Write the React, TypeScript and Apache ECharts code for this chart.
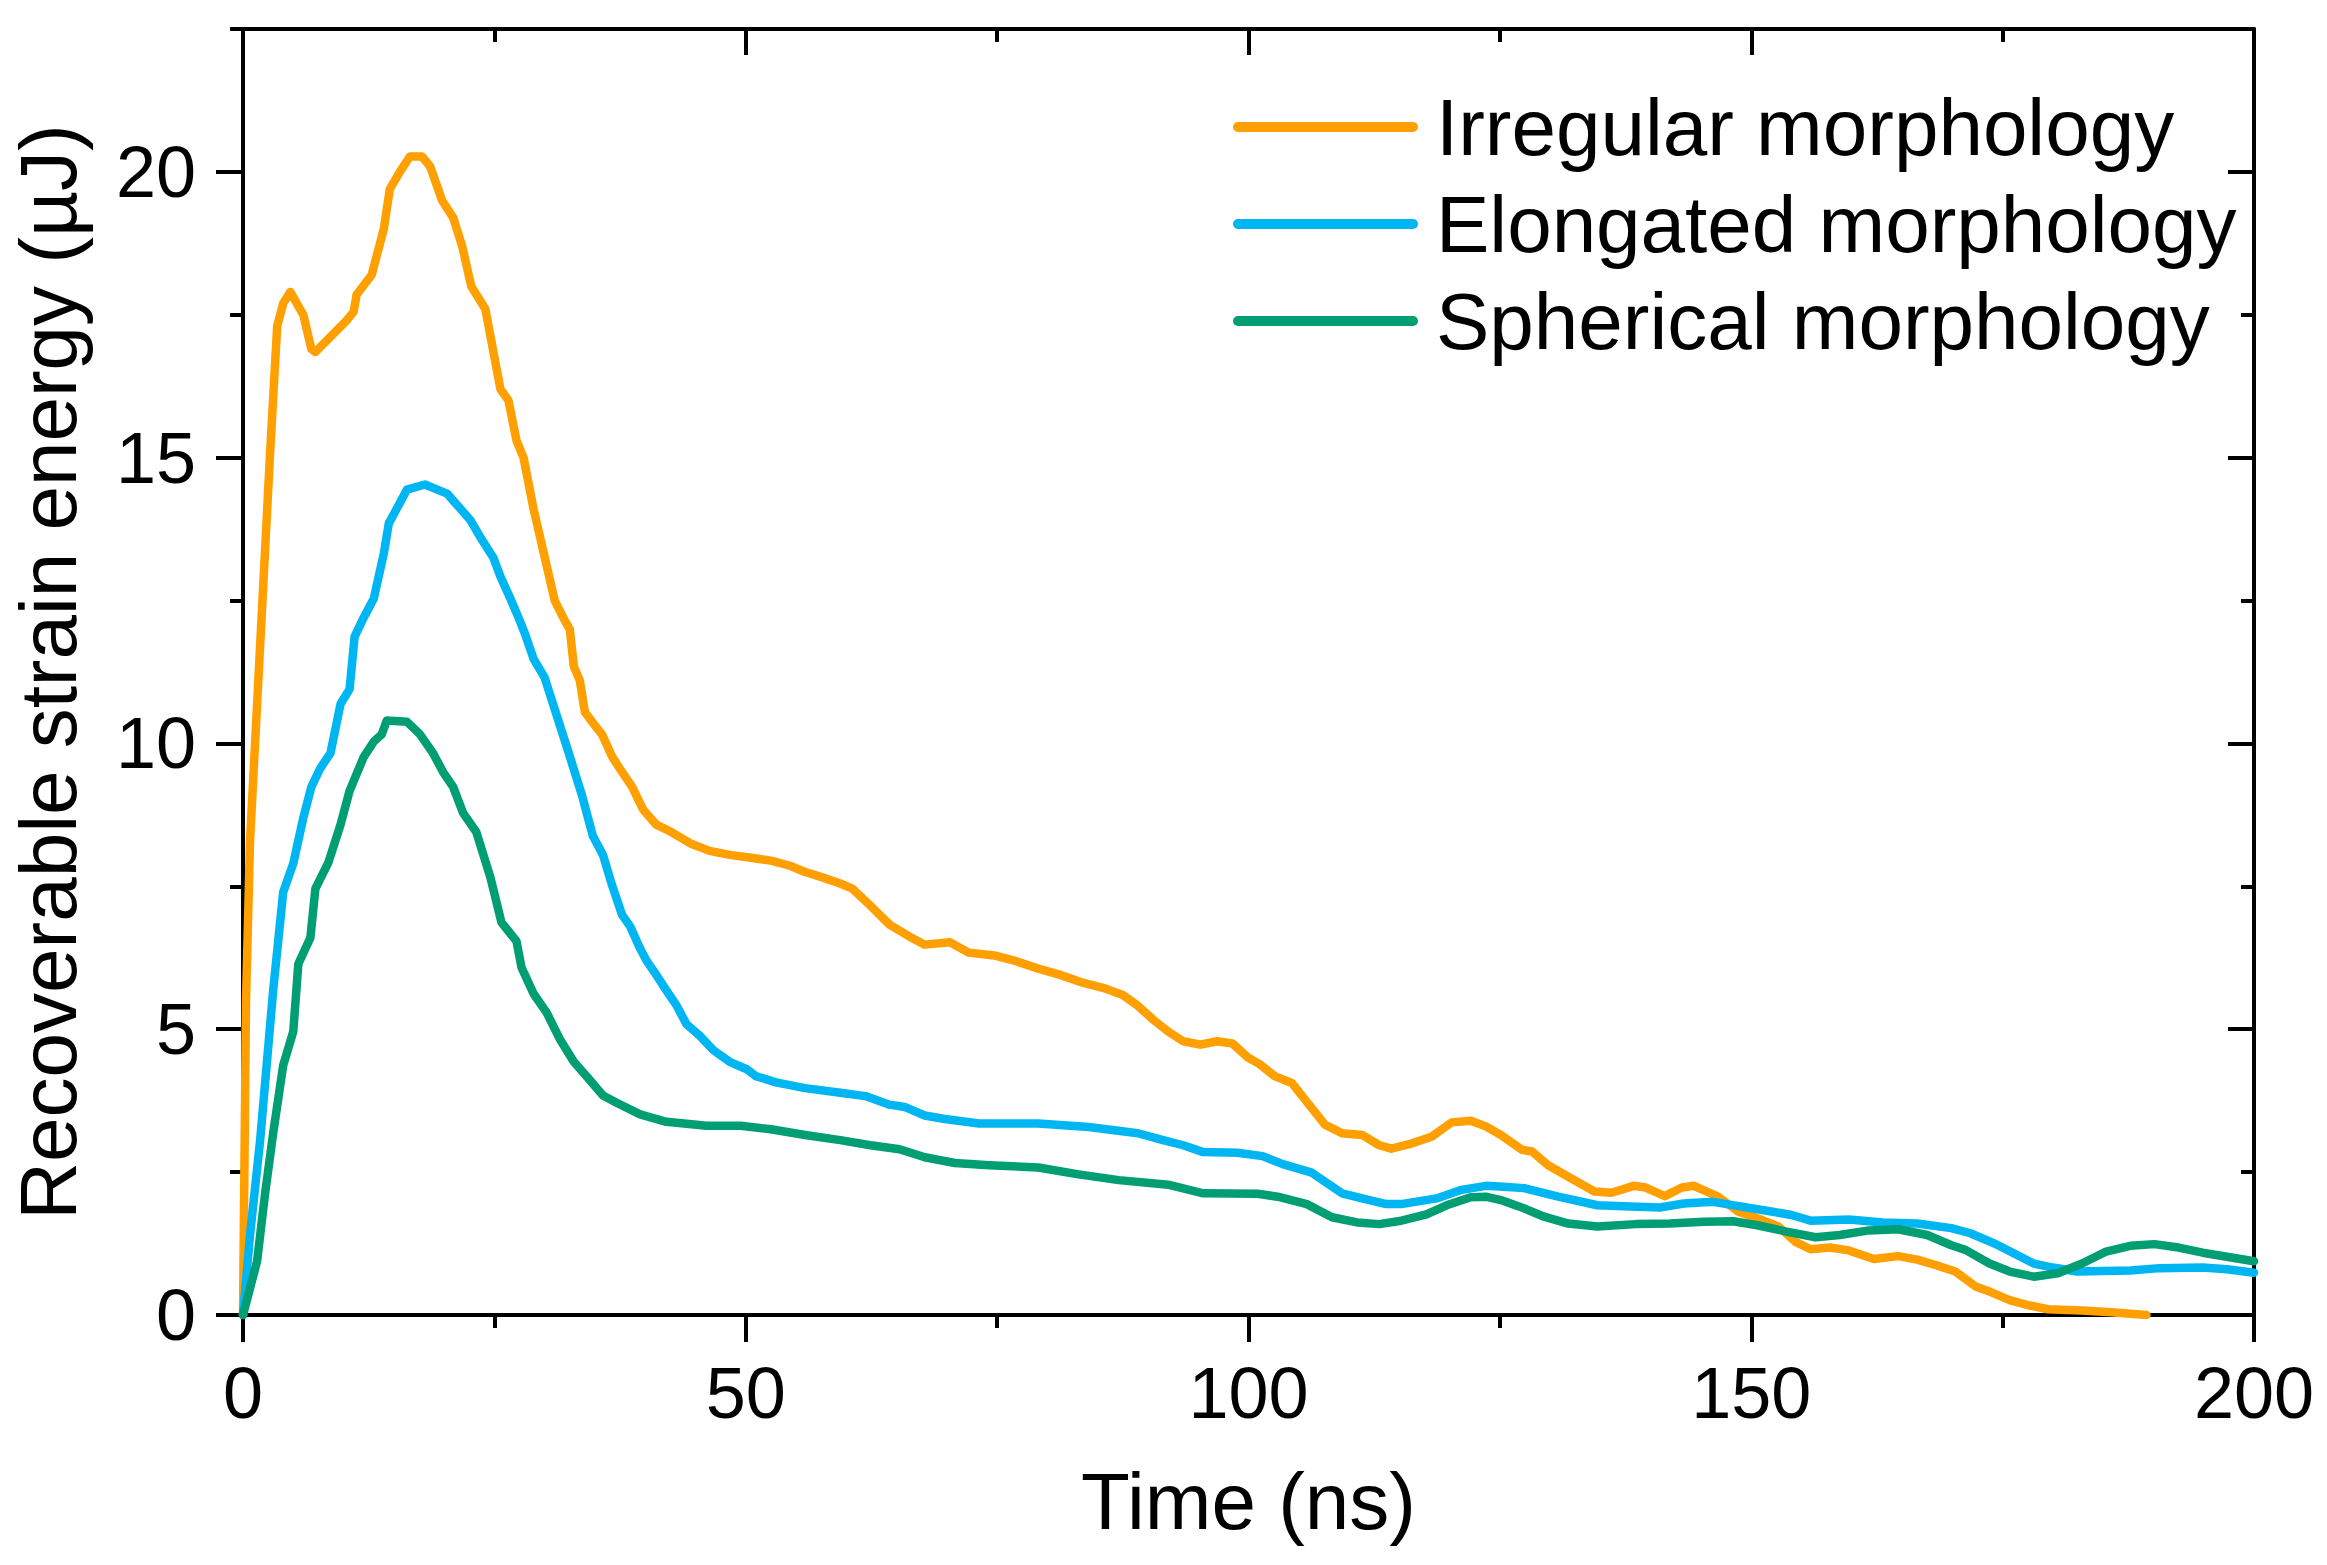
import React, { useEffect, useRef } from "react";
import * as echarts from "echarts";

const seriesNames = ["Irregular morphology", "Elongated morphology", "Spherical morphology"];
const seriesColors = ["#FFA000", "#00B6F2", "#009E72"];

const xTicks = [0, 50, 100, 150, 200];
const yMajorTicks = [0, 5, 10, 15, 20];

const irregularTime = [0, 0.3, 0.7, 1.7, 2.7, 3.4, 4.0, 4.7, 6.0, 6.8, 7.2, 10.3, 11.0, 11.3, 12.8, 14.0, 14.6, 15.6, 16.6, 17.8, 18.6, 19.8, 20.9, 21.8, 22.7, 24.1, 25.6, 26.4, 27.2, 27.9, 28.9, 31.0, 32.0, 32.5, 32.9, 33.5, 34.0, 34.8, 35.7, 36.7, 37.7, 38.7, 39.8, 41.1, 42.6, 44.5, 46.4, 48.4, 50.5, 52.5, 54.4, 55.9, 57.4, 59.4, 60.6, 62.4, 64.3, 66.3, 67.8, 70.3, 72.2, 74.7, 76.7, 79.1, 81.1, 83.6, 85.6, 87.5, 89.0, 90.5, 92.0, 93.5, 95.2, 96.9, 98.4, 99.9, 101.1, 102.6, 104.3, 105.8, 107.6, 109.3, 111.3, 113.0, 114.2, 116.2, 118.2, 120.2, 122.1, 123.6, 125.1, 127.2, 128.2, 129.8, 131.8, 134.4, 136.1, 138.3, 139.5, 141.4, 143.1, 144.3, 146.7, 148.7, 151.1, 152.7, 154.4, 155.9, 157.8, 159.7, 162.2, 164.6, 166.5, 168.4, 170.3, 172.3, 173.7, 175.7, 177.6, 179.5, 182.9, 185.8, 188.7, 189.3];
const irregularEnergy = [0, 5.5, 8.3, 11.7, 15.1, 17.3, 17.7, 17.9, 17.5, 16.9, 16.85, 17.4, 17.55, 17.85, 18.2, 19.0, 19.7, 20.0, 20.27, 20.27, 20.1, 19.5, 19.2, 18.7, 18.0, 17.6, 16.2, 16.0, 15.3, 15.0, 14.1, 12.5, 12.15, 12.0, 11.35, 11.1, 10.55, 10.36, 10.16, 9.77, 9.5, 9.24, 8.84, 8.58, 8.45, 8.25, 8.12, 8.05, 8.0, 7.95, 7.86, 7.75, 7.67, 7.55, 7.46, 7.16, 6.83, 6.62, 6.48, 6.52, 6.34, 6.29, 6.2, 6.06, 5.96, 5.81, 5.72, 5.6, 5.41, 5.17, 4.96, 4.79, 4.73, 4.79, 4.75, 4.51, 4.39, 4.18, 4.06, 3.73, 3.33, 3.18, 3.15, 2.97, 2.91, 3.0, 3.12, 3.37, 3.4, 3.3, 3.15, 2.89, 2.86, 2.62, 2.42, 2.16, 2.14, 2.26, 2.23, 2.08, 2.23, 2.26, 2.07, 1.81, 1.66, 1.55, 1.28, 1.15, 1.18, 1.13, 0.98, 1.03, 0.97, 0.87, 0.76, 0.5, 0.41, 0.26, 0.17, 0.1, 0.08, 0.05, 0.01, 0];

const elongatedTime = [0, 0.7, 1.7, 3.0, 4.0, 5.0, 6.0, 6.8, 7.7, 8.7, 9.7, 10.6, 11.1, 12.0, 13.0, 14.0, 14.5, 15.3, 16.3, 18.1, 18.9, 20.3, 21.6, 22.6, 23.7, 24.9, 25.6, 26.6, 27.4, 28.0, 28.9, 30.0, 31.2, 32.4, 33.7, 34.8, 35.8, 36.7, 37.7, 38.5, 39.5, 40.1, 41.1, 42.1, 43.1, 44.1, 45.4, 46.8, 48.4, 50.1, 51.0, 53.0, 55.9, 59.4, 61.9, 64.3, 65.8, 67.8, 69.8, 73.2, 79.1, 84.1, 89.0, 91.5, 93.5, 95.5, 98.9, 101.4, 103.4, 106.3, 107.8, 109.3, 111.3, 113.7, 115.2, 118.7, 121.2, 123.6, 125.0, 127.4, 130.8, 134.7, 138.0, 140.9, 143.3, 146.2, 148.6, 152.0, 154.0, 155.9, 159.7, 163.1, 166.5, 169.9, 171.8, 174.2, 176.1, 178.1, 180.0, 182.4, 187.7, 190.6, 194.9, 197.3, 200];
const elongatedEnergy = [0, 1.4, 3.05, 5.68, 7.4, 7.9, 8.7, 9.24, 9.57, 9.83, 10.69, 10.95, 11.87, 12.2, 12.53, 13.32, 13.85, 14.11, 14.44, 14.53, 14.47, 14.37, 14.11, 13.91, 13.58, 13.25, 12.92, 12.53, 12.2, 11.94, 11.48, 11.15, 10.49, 9.83, 9.1, 8.38, 8.05, 7.52, 7.0, 6.8, 6.41, 6.21, 5.95, 5.68, 5.42, 5.09, 4.89, 4.63, 4.43, 4.3, 4.18, 4.07, 3.97, 3.89, 3.83, 3.68, 3.64, 3.49, 3.43, 3.35, 3.35, 3.29, 3.18, 3.06, 2.97, 2.85, 2.84, 2.78, 2.64, 2.49, 2.31, 2.13, 2.04, 1.94, 1.94, 2.04, 2.19, 2.26, 2.25, 2.22, 2.07, 1.92, 1.9, 1.88, 1.95, 1.98, 1.91, 1.81, 1.75, 1.65, 1.67, 1.62, 1.6, 1.52, 1.43, 1.25, 1.08, 0.9, 0.83, 0.76, 0.78, 0.82, 0.83, 0.8, 0.74];

const sphericalTime = [0, 1.4, 2.2, 3.0, 4.0, 5.0, 5.5, 6.7, 7.2, 8.5, 9.7, 10.6, 12.0, 13.0, 13.8, 14.3, 16.3, 17.6, 18.9, 19.9, 20.9, 21.9, 23.2, 24.6, 25.7, 27.2, 27.7, 28.9, 30.2, 31.5, 32.9, 34.2, 35.8, 37.2, 39.5, 42.1, 46.1, 49.5, 52.5, 55.9, 59.4, 62.4, 65.3, 67.8, 70.8, 74.2, 79.1, 83.1, 87.1, 92.0, 95.5, 100.9, 102.9, 105.8, 108.3, 110.8, 113.0, 115.2, 117.7, 119.7, 122.1, 123.6, 125.3, 126.9, 129.4, 131.8, 134.7, 138.5, 141.9, 145.3, 148.2, 150.6, 153.5, 156.4, 158.8, 161.7, 164.6, 167.5, 169.9, 171.3, 173.7, 175.7, 178.1, 180.5, 182.9, 185.3, 187.7, 190.1, 192.5, 194.9, 197.3, 200];
const sphericalEnergy = [0, 0.94, 2.13, 3.18, 4.37, 4.96, 6.14, 6.6, 7.46, 7.92, 8.58, 9.17, 9.76, 10.03, 10.16, 10.4, 10.38, 10.16, 9.83, 9.5, 9.24, 8.78, 8.45, 7.66, 6.87, 6.54, 6.08, 5.62, 5.29, 4.83, 4.43, 4.17, 3.84, 3.71, 3.51, 3.38, 3.31, 3.31, 3.25, 3.15, 3.06, 2.97, 2.9, 2.76, 2.66, 2.62, 2.58, 2.46, 2.36, 2.28, 2.13, 2.12, 2.07, 1.94, 1.71, 1.62, 1.59, 1.65, 1.76, 1.92, 2.06, 2.07, 2.0, 1.9, 1.72, 1.6, 1.55, 1.59, 1.6, 1.63, 1.64, 1.57, 1.46, 1.36, 1.4, 1.48, 1.5, 1.4, 1.22, 1.14, 0.9, 0.76, 0.67, 0.73, 0.9, 1.11, 1.21, 1.24, 1.18, 1.09, 1.02, 0.94];

const zip = (t: number[], v: number[]) => t.map((x, i) => [x, v[i]]);

const FONT = 'Arial, "Liberation Sans", sans-serif';
const BLACK = "#000000";

export default function App() {
  const ref = useRef<HTMLDivElement>(null);

  useEffect(() => {
    document.body.style.margin = "0";
    document.body.style.overflow = "hidden";
    if (!ref.current) return;
    const chart = echarts.init(ref.current, null, { renderer: "svg" });

    const lineAxis = { show: true, onZero: false, lineStyle: { color: BLACK, width: 4 } };
    const noLine = { show: false, onZero: false };

    const option: any = {
      animation: false,
      backgroundColor: "#ffffff",
      textStyle: { fontFamily: FONT },
      grid: { left: 243, right: 73, top: 29, bottom: 250, containLabel: false, outerBoundsMode: "none" },
      legend: {
        show: true,
        orient: "vertical",
        left: 1233,
        top: 87,
        padding: 0,
        itemWidth: 185,
        itemHeight: 10,
        itemGap: 17,
        selectedMode: false,
        icon: "path://M5,0H180A5,5,0,0,1,180,10H5A5,5,0,0,1,5,0Z",
        textStyle: { fontSize: 80, color: BLACK, fontFamily: FONT, padding: [0, 0, 0, 13] },
        data: seriesNames,
      },
      xAxis: [
        {
          type: "value",
          position: "bottom",
          min: xTicks[0],
          max: xTicks[xTicks.length - 1],
          interval: 50,
          axisLine: lineAxis,
          axisTick: { show: true, inside: false, length: 27, lineStyle: { color: BLACK, width: 4 } },
          minorTick: { show: true, splitNumber: 2, length: 13, lineStyle: { color: BLACK, width: 4 } },
          splitLine: { show: false },
          minorSplitLine: { show: false },
          axisLabel: { show: true, fontSize: 72, color: BLACK, fontFamily: FONT, margin: 42 },
          name: "Time (ns)",
          nameLocation: "middle",
          nameGap: 146,
          nameTextStyle: { fontSize: 80, color: BLACK, fontFamily: FONT },
        },
        {
          type: "value",
          position: "top",
          min: xTicks[0],
          max: xTicks[xTicks.length - 1],
          interval: 50,
          axisLine: lineAxis,
          axisTick: { show: true, inside: true, length: 26, lineStyle: { color: BLACK, width: 4 } },
          minorTick: { show: true, splitNumber: 2, length: 13, lineStyle: { color: BLACK, width: 4 } },
          splitLine: { show: false },
          axisLabel: { show: false },
        },
      ],
      yAxis: [
        {
          type: "value",
          position: "left",
          min: 0,
          max: 22.5,
          interval: 2.5,
          axisLine: lineAxis,
          axisTick: { show: true, inside: false, length: 13, lineStyle: { color: BLACK, width: 4 } },
          splitLine: { show: false },
          axisLabel: {
            show: true,
            fontSize: 72,
            color: BLACK,
            fontFamily: FONT,
            margin: 47,
            formatter: (v: number) => (yMajorTicks.indexOf(v) >= 0 ? String(v) : ""),
          },
          name: "Recoverable strain energy (\u00B5J)",
          nameLocation: "middle",
          nameGap: 155,
          nameTextStyle: { fontSize: 80, color: BLACK, fontFamily: FONT },
        },
        {
          type: "value",
          position: "left",
          min: 0,
          max: 22.5,
          interval: 2.5,
          axisLine: noLine,
          axisTick: { show: true, inside: false, length: 27, customValues: yMajorTicks, lineStyle: { color: BLACK, width: 4 } },
          splitLine: { show: false },
          axisLabel: { show: false },
        },
        {
          type: "value",
          position: "right",
          min: 0,
          max: 22.5,
          interval: 2.5,
          axisLine: lineAxis,
          axisTick: { show: true, inside: true, length: 13, lineStyle: { color: BLACK, width: 4 } },
          splitLine: { show: false },
          axisLabel: { show: false },
        },
        {
          type: "value",
          position: "right",
          min: 0,
          max: 22.5,
          interval: 2.5,
          axisLine: noLine,
          axisTick: { show: true, inside: true, length: 26, customValues: yMajorTicks, lineStyle: { color: BLACK, width: 4 } },
          splitLine: { show: false },
          axisLabel: { show: false },
        },
      ],
      series: [
        { name: seriesNames[0], data: zip(irregularTime, irregularEnergy), color: seriesColors[0] },
        { name: seriesNames[1], data: zip(elongatedTime, elongatedEnergy), color: seriesColors[1] },
        { name: seriesNames[2], data: zip(sphericalTime, sphericalEnergy), color: seriesColors[2] },
      ].map((s) => ({
        type: "line",
        name: s.name,
        data: s.data,
        xAxisIndex: 0,
        yAxisIndex: 0,
        showSymbol: false,
        symbol: "none",
        smooth: false,
        clip: true,
        itemStyle: { color: s.color },
        lineStyle: { color: s.color, width: 8.5, join: "round", cap: "round" },
        emphasis: { disabled: true },
      })),
    };

    chart.setOption(option);
    return () => chart.dispose();
  }, []);

  return <div ref={ref} style={{ width: 2327, height: 1565 }} />;
}
